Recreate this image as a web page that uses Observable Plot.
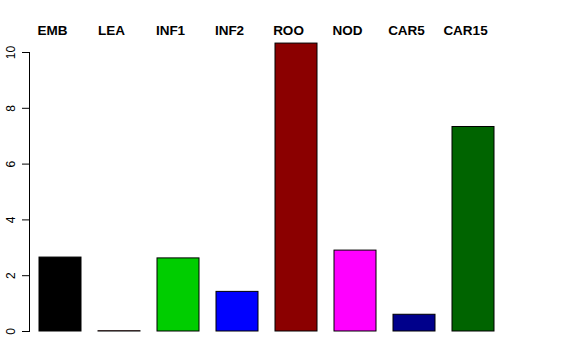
<!DOCTYPE html>
<html>
<head>
<meta charset="utf-8">
<script src="https://cdn.jsdelivr.net/npm/d3@7"></script>
<script src="https://cdn.jsdelivr.net/npm/@observablehq/plot@0.6"></script>
<style>
  html, body { margin: 0; padding: 0; background: #fff; }
  svg { display: block; }
</style>
</head>
<body>
<div id="chart"></div>
<script>
const categories = ["EMB", "LEA", "INF1", "INF2", "ROO", "NOD", "CAR5", "CAR15"];
const values = [2.65, 0.01, 2.62, 1.42, 10.32, 2.9, 0.6, 7.33];
const colors = ["#000000", "#FF0000", "#00CD00", "#0000FF", "#8B0000", "#FF00FF", "#00008B", "#006400"];
const yTicks = [0, 2, 4, 6, 8, 10];

const data = categories.map((c, i) => ({name: c, value: values[i], color: colors[i]}));

const chart = Plot.plot({
  width: 576,
  height: 360,
  marginLeft: 29,
  marginRight: 72,
  marginTop: 52,
  marginBottom: 29,
  style: {fontFamily: "'Liberation Sans', Arial, Helvetica, sans-serif", fontSize: "12px", background: "#fff", color: "#000", overflow: "visible"},
  x: {domain: categories, range: [29, 504], paddingInner: 0.292, paddingOuter: 0.152, axis: null},
  y: {domain: [0, 10], ticks: yTicks, tickSize: 7, tickPadding: 8, tickRotate: -90, line: true, label: null, clamp: false},
  marks: [
    Plot.barY(data, {x: "name", y: "value", fill: "color", stroke: "#000", strokeWidth: 1, clip: false}),
    Plot.text(data, {x: "name", text: "name", frameAnchor: "top", lineAnchor: "bottom", dx: -8, dy: -18, fontSize: 13.5, fontWeight: "bold", fill: "#000"})
  ]
});
document.getElementById("chart").appendChild(chart);
</script>
</body>
</html>
